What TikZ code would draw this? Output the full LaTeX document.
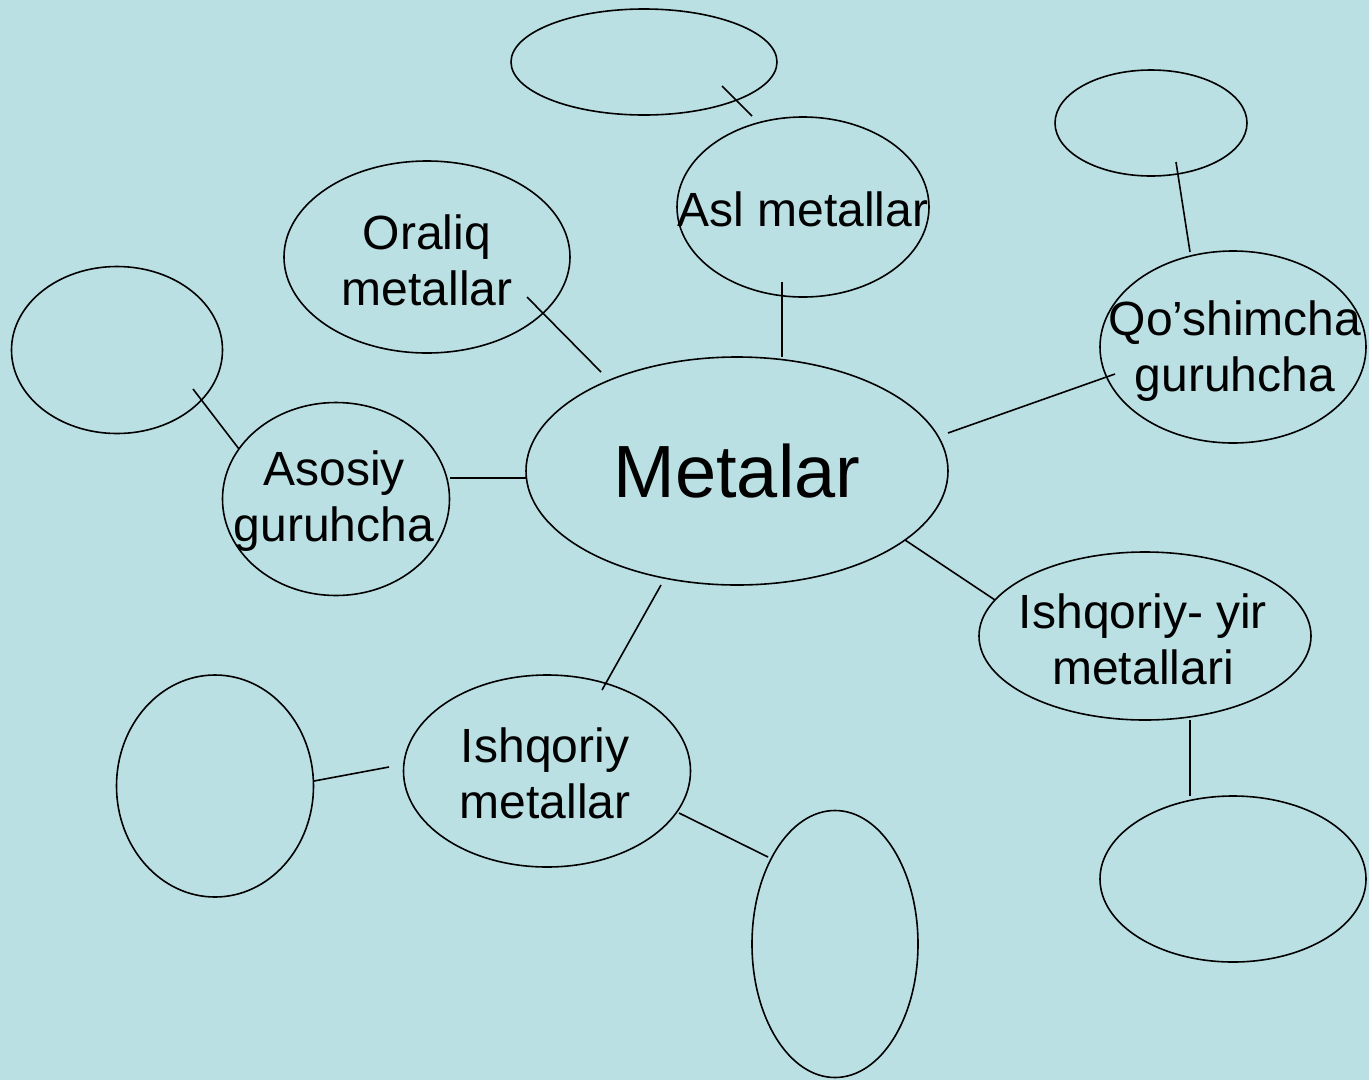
\documentclass[tikz,border=0pt]{standalone}
\usepackage{fontspec}
\setmainfont{Liberation Sans}
\usetikzlibrary{shapes.geometric}
\definecolor{bgcol}{RGB}{186,224,228}
\begin{document}
\begin{tikzpicture}[x=1pt,y=-1pt,
  oval/.style={draw=black,line width=1.6pt,ellipse,inner sep=0pt},
  lbl/.style={font=\fontsize{48}{56}\selectfont,align=center,inner sep=0pt},
  conn/.style={draw=black,line width=1.6pt}]
\fill[bgcol] (0,0) rectangle (1369,1080);
\useasboundingbox (0,0) rectangle (1369,1080);
% ellipses
\node[oval,minimum width=266pt,minimum height=106pt] (topE) at (644,62) {};
\node[oval,minimum width=252pt,minimum height=180pt] (asl) at (803,207) {};
\node[oval,minimum width=192pt,minimum height=106pt] (trE) at (1151,123) {};
\node[oval,minimum width=286pt,minimum height=192pt] (oraliq) at (427,257) {};
\node[oval,minimum width=211pt,minimum height=167pt] (lE) at (117,350) {};
\node[oval,minimum width=266pt,minimum height=192pt] (qosh) at (1233,347) {};
\node[oval,minimum width=422pt,minimum height=228pt] (met) at (737,471) {};
\node[oval,minimum width=227pt,minimum height=193pt] (asos) at (336,499) {};
\node[oval,minimum width=332pt,minimum height=168pt] (iyir) at (1145,636) {};
\node[oval,minimum width=287pt,minimum height=192pt] (ishq) at (547,771) {};
\node[oval,minimum width=197pt,minimum height=222pt] (lbE) at (215,786) {};
\node[oval,minimum width=166pt,minimum height=267pt] (bE) at (835,944) {};
\node[oval,minimum width=266pt,minimum height=166pt] (brE) at (1233,879) {};
% labels
\node[font=\fontsize{74}{80}\selectfont,inner sep=0pt] (tmet) at (met.center) {Metalar};
\node[lbl] (tasl) at (803,209) {Asl metallar};
\node[lbl] (tor) at (427,260) {Oraliq\\metallar};
\node[lbl] (tqo) at (1235,351) {Qo’shimcha\\guruhcha};
\node[lbl] (tas) at (334,501) {Asosiy\\guruhcha};
\node[lbl] (tiy) at (1143,639) {Ishqoriy- yir\\metallari};
\node[lbl] (tis) at (545,773) {Ishqoriy\\metallar};
% connector end points
\coordinate (c1a) at (722,86); \coordinate (c1b) at (752,116);
\coordinate (c2a) at (782,282); \coordinate (c2b) at (782,357);
\coordinate (c3a) at (1176,162); \coordinate (c3b) at (1190,252);
\coordinate (c4a) at (527,297); \coordinate (c4b) at (601,372);
\coordinate (c5a) at (948,433); \coordinate (c5b) at (1115,374);
\coordinate (c6a) at (193,389); \coordinate (c6b) at (239,449);
\coordinate (c7a) at (450,478); \coordinate (c7b) at (526,478);
\coordinate (c8a) at (905,540); \coordinate (c8b) at (995,600);
\coordinate (c9a) at (661,585); \coordinate (c9b) at (602,690);
\coordinate (c10a) at (1190,720); \coordinate (c10b) at (1190,796);
\coordinate (c11a) at (314,781); \coordinate (c11b) at (389,767);
\coordinate (c12a) at (679,813); \coordinate (c12b) at (768,857);
\foreach \i in {1,...,12} {\draw[conn] (c\i a) -- (c\i b);}
\end{tikzpicture}
\end{document}
